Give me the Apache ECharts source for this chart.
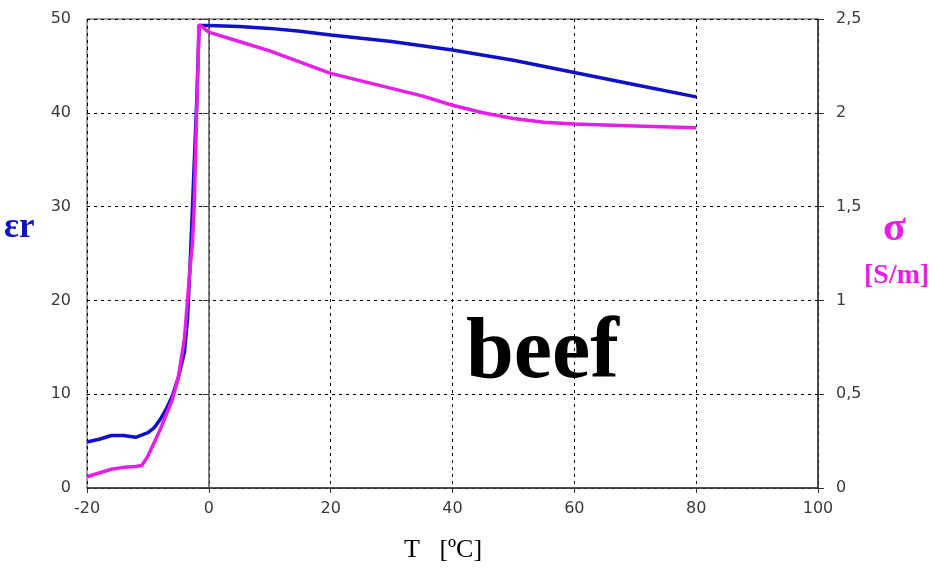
<!DOCTYPE html>
<html>
<head>
<meta charset="utf-8">
<script src="https://cdn.jsdelivr.net/npm/echarts@6/dist/echarts.min.js"></script>
<style>
html,body{margin:0;padding:0;background:#fff;}
#chart{width:935px;height:571px;}
</style>
</head>
<body>
<div id="chart"></div>
<script>
// Temperature (°C) and relative permittivity εr (left axis)
const epsT = [-20,-18,-16,-14,-12,-10,-9,-8,-7,-6,-5,-4,-3.5,-3,-2.5,-2,-1.6,0,5,10,15,20,30,40,50,60,70,80];
const epsV = [4.9,5.2,5.6,5.6,5.4,5.9,6.4,7.3,8.4,9.8,11.8,14.5,18,25,33,41,49.3,49.3,49.2,49.0,48.7,48.3,47.6,46.7,45.6,44.3,43.0,41.7];
// Temperature (°C) and conductivity σ [S/m] (right axis)
const sigT = [-20,-18,-16,-14,-12,-11,-10,-9,-8,-7,-6,-5,-4,-3.5,-3,-2.7,-2.4,-2,-1.6,0,5,10,15,20,25,30,35,40,45,50,55,60,70,80];
const sigV = [0.06,0.08,0.1,0.11,0.115,0.12,0.17,0.24,0.31,0.39,0.47,0.59,0.8,1.0,1.2,1.3,1.5,2.0,2.47,2.43,2.38,2.33,2.27,2.21,2.17,2.13,2.09,2.04,2.0,1.97,1.95,1.94,1.93,1.92];
// Axis ranges
const xTicks = {min:-20, max:100, interval:20};
const leftTicks = {min:0, max:50, interval:10};
const rightTicks = {min:0, max:2.5, interval:0.5};

const chart = echarts.init(document.getElementById('chart'));
const labelStyle = {color:'#3a3a3a', fontFamily:'DejaVu Sans, sans-serif', fontSize:16};
const gridLine = {show:true, lineStyle:{color:'#000', type:[3,4], width:1}};
chart.setOption({
  animation:false,
  backgroundColor:'#fff',
  grid:{left:87, right:117, top:19, bottom:83, show:true, borderColor:'#444', borderWidth:1},
  xAxis:{type:'value', min:xTicks.min, max:xTicks.max, interval:xTicks.interval,
    axisLine:{show:true, onZero:false, lineStyle:{color:'#333', width:1.5}},
    axisTick:{show:true, inside:false, length:5, lineStyle:{color:'#333'}},
    axisLabel:Object.assign({margin:13}, labelStyle),
    splitLine:gridLine},
  yAxis:[
    {type:'value', min:leftTicks.min, max:leftTicks.max, interval:leftTicks.interval, position:'left',
     axisLine:{show:true, lineStyle:{color:'#555', width:1.5}},
     axisTick:{show:true, length:6, lineStyle:{color:'#333'}},
     axisLabel:Object.assign({margin:16}, labelStyle),
     splitLine:gridLine},
    {type:'value', min:rightTicks.min, max:rightTicks.max, interval:rightTicks.interval, position:'right',
     axisLine:{show:true, lineStyle:{color:'#333', width:1.5}},
     axisTick:{show:true, length:6, lineStyle:{color:'#333'}},
     axisLabel:Object.assign({margin:18, formatter:v=>String(v).replace('.',',')}, labelStyle),
     splitLine:{show:false}}
  ],
  series:[
    {type:'line', yAxisIndex:0, showSymbol:false, smooth:false,
     lineStyle:{color:'#1010c8', width:3.5}, itemStyle:{color:'#1010c8'},
     data:epsT.map((t,i)=>[t,epsV[i]])},
    {type:'line', yAxisIndex:1, showSymbol:false, smooth:false,
     lineStyle:{color:'#e61ee6', width:3.5}, itemStyle:{color:'#e61ee6'},
     data:sigT.map((t,i)=>[t,sigV[i]])}
  ],
  graphic:[
    {type:'text', left:4, top:210, style:{text:'εr', fill:'#1010c8', font:'bold 35px "Liberation Serif", serif'}},
    {type:'text', left:883, top:208, style:{text:'σ', fill:'#e61ee6', font:'bold 42px "Liberation Serif", serif'}},
    {type:'text', left:864, top:262, style:{text:'[S/m]', fill:'#e61ee6', font:'bold 28px "Liberation Serif", serif'}},
    {type:'text', left:466, top:312, style:{text:'beef', fill:'#000', font:'bold 86px "Liberation Serif", serif'}},
    {type:'text', left:404, top:537, style:{text:'T   [ºC]', fill:'#000', font:'26px "Liberation Serif", serif'}}
  ]
});
</script>
</body>
</html>
